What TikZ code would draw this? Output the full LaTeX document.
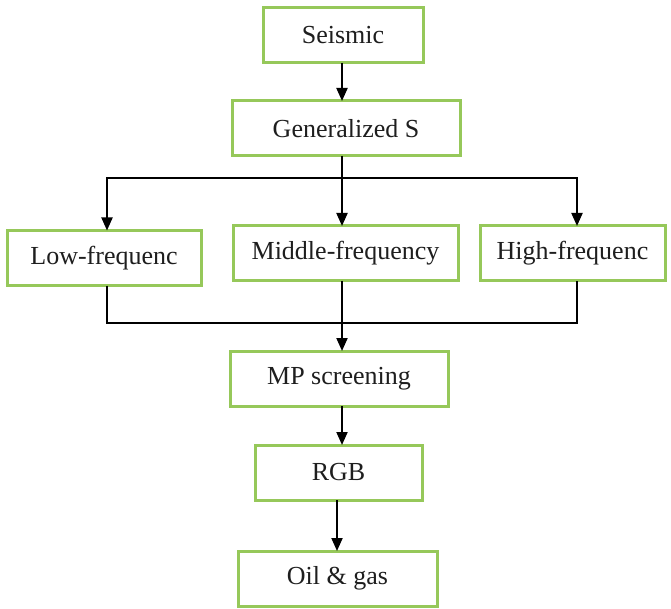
\documentclass[tikz,border=0pt]{standalone}
\usepackage{fontspec}
\setmainfont{Liberation Serif}
\usetikzlibrary{positioning,arrows.meta}
\definecolor{boxgreen}{RGB}{150,200,90}
\definecolor{inkgray}{RGB}{30,30,30}

\tikzset{
  stagebox/.style={draw=boxgreen, line width=3pt, fill=white, inner sep=0pt, outer sep=0pt,
    minimum height=55pt, text=inkgray, font=\fontsize{26}{30}\selectfont},
  flow/.style={line width=2pt, -{Triangle[length=13pt,width=11pt]}},
  link/.style={line width=2pt}
}

\begin{document}
\begin{tikzpicture}
  \useasboundingbox (0,0) rectangle (671pt,-609pt);
  \node[stagebox, minimum width=160pt] (seismic) at (343pt,-35.5pt) {Seismic};
  \node[stagebox, minimum width=228pt, below=38pt of seismic, xshift=3pt] (gens) {Generalized S};
  \node[stagebox, minimum width=225pt, below=70pt of gens, xshift=-0.5pt] (mid) {Middle-frequency};
  \node[stagebox, minimum width=194pt, left=32pt of mid, yshift=-4.5pt] (low) {Low-frequenc};
  \node[stagebox, minimum width=185pt, right=22pt of mid] (high) {High-frequenc};
  \node[stagebox, minimum width=218pt, below=70pt of mid, xshift=-6.5pt] (mp) {MP screening};
  \node[stagebox, minimum width=167pt, below=39pt of mp, xshift=-0.5pt] (rgb) {RGB};
  \node[stagebox, minimum width=199pt, below=51pt of rgb, xshift=-1pt] (oil) {Oil \& gas};

  % split into three bands
  \draw[flow] ([xshift=-1pt]seismic.south) -- ([xshift=-1pt]seismic.south |- gens.north);
  \draw[flow] ([xshift=-4pt]gens.south) -- ([xshift=-4pt]gens.south |- mid.north);
  \draw[flow] ([xshift=-4pt,yshift=-22pt]gens.south) -| ([xshift=3pt]low.north);
  \draw[flow] ([xshift=-4pt,yshift=-22pt]gens.south) -| ([xshift=4.5pt]high.north);

  % merge back
  \draw[link] ([xshift=3pt]low.south) -- ++(0,-37pt) -| ([xshift=4.5pt]high.south);
  \draw[flow] ([xshift=-3.5pt]mid.south) -- ([xshift=-3.5pt]mid.south |- mp.north);
  \draw[flow] ([xshift=3pt]mp.south) -- ([xshift=3pt]mp.south |- rgb.north);
  \draw[flow] ([xshift=-1.5pt]rgb.south) -- ([xshift=-1.5pt]rgb.south |- oil.north);
\end{tikzpicture}
\end{document}
